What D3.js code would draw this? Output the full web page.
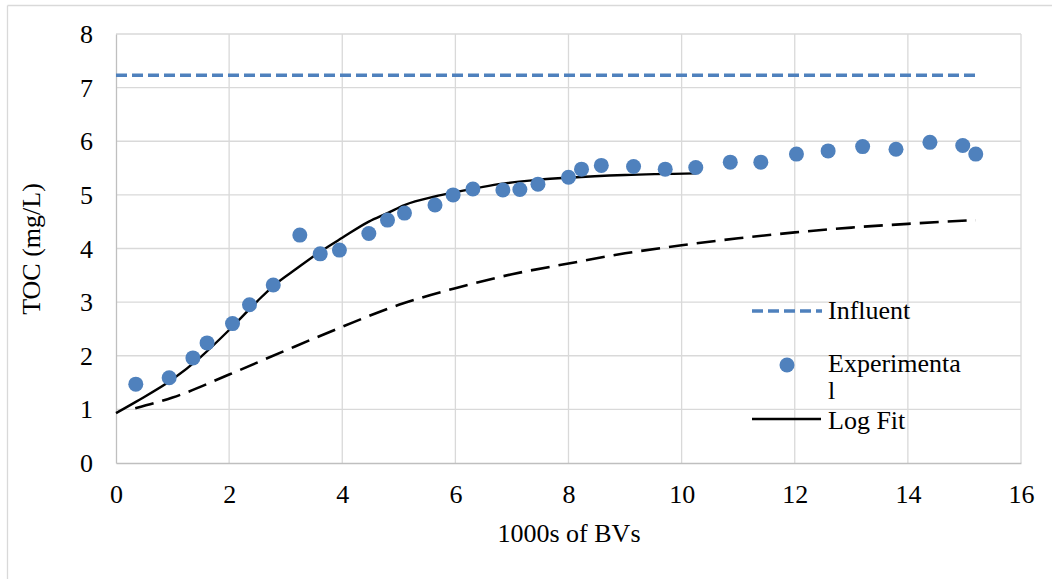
<!DOCTYPE html>
<html>
<head>
<meta charset="utf-8">
<script src="https://cdn.jsdelivr.net/npm/d3@7"></script>
<style>
  html, body { margin: 0; padding: 0; background: #fff; }
  svg { display: block; }
  text { font-family: "Liberation Serif", "Times New Roman", serif; fill: #000; }
</style>
</head>
<body>
<svg id="chart" width="1052" height="579"></svg>
<script>
// ---- data ----
const influentX = [0, 15.2];
const influentY = [7.23, 7.23];

const expX = [0.35, 0.94, 1.36, 1.61, 2.06, 2.36, 2.78, 3.25, 3.61, 3.95, 4.47, 4.80, 5.10, 5.64, 5.96, 6.31, 6.84, 7.14, 7.46, 8.00, 8.23, 8.58, 9.15, 9.71, 10.25, 10.86, 11.40, 12.03, 12.59, 13.20, 13.79, 14.39, 14.97, 15.20];
const expY = [1.47, 1.59, 1.96, 2.24, 2.60, 2.95, 3.32, 4.25, 3.90, 3.97, 4.28, 4.53, 4.66, 4.81, 5.00, 5.11, 5.09, 5.10, 5.20, 5.33, 5.48, 5.55, 5.53, 5.48, 5.51, 5.61, 5.61, 5.76, 5.82, 5.90, 5.85, 5.98, 5.92, 5.76];

const logFitX = [0, 0.35, 1, 1.5, 2, 2.5, 2.78, 3.2, 3.61, 4.0, 4.47, 4.8, 5.1, 5.64, 6.0, 6.84, 7.46, 8.0, 9.0, 10.25];
const logFitY = [0.93, 1.14, 1.56, 1.98, 2.48, 3.02, 3.30, 3.63, 3.94, 4.20, 4.50, 4.66, 4.81, 4.97, 5.05, 5.21, 5.28, 5.32, 5.37, 5.40];

const modelX = [0.34, 1, 2, 3, 4, 5, 6, 7, 8, 9, 10, 11, 12, 13, 14, 15.2];
const modelY = [1.02, 1.22, 1.65, 2.10, 2.54, 2.95, 3.26, 3.52, 3.72, 3.91, 4.06, 4.19, 4.30, 4.39, 4.46, 4.53];

const xTicks = [0, 2, 4, 6, 8, 10, 12, 14, 16];
const yTicks = [0, 1, 2, 3, 4, 5, 6, 7, 8];
const xTitle = "1000s of BVs";
const yTitle = "TOC (mg/L)";
const legendLabels = ["Influent", ["Experimenta", "l"], "Log Fit"];

// ---- layout ----
const svg = d3.select("#chart");
const plotL = 116, plotR = 1021, plotT = 34, plotB = 463;
const x = d3.scaleLinear().domain([0, 16]).range([plotL, plotR]);
const y = d3.scaleLinear().domain([0, 8]).range([plotB, plotT]);
const blue = "#4f81bd";
const fontSize = 26;

// outer chart border (left and top visible)
svg.append("line").attr("x1", 7.5).attr("x2", 7.5).attr("y1", 5.5).attr("y2", 579)
  .attr("stroke", "#d9d9d9").attr("stroke-width", 1.3);
svg.append("line").attr("x1", 7.5).attr("x2", 1052).attr("y1", 5.5).attr("y2", 5.5)
  .attr("stroke", "#d9d9d9").attr("stroke-width", 1.3);

// gridlines
const grid = svg.append("g");
grid.selectAll("line.h").data(yTicks.filter(d => d > 0)).join("line")
  .attr("x1", plotL).attr("x2", plotR)
  .attr("y1", d => y(d)).attr("y2", d => y(d))
  .attr("stroke", "#d9d9d9").attr("stroke-width", 1.3);
grid.selectAll("line.v").data(xTicks.filter(d => d > 0)).join("line")
  .attr("y1", plotT).attr("y2", plotB)
  .attr("x1", d => x(d)).attr("x2", d => x(d))
  .attr("stroke", "#d9d9d9").attr("stroke-width", 1.3);

// axes
const xAxis = d3.axisBottom(x).tickValues(xTicks).tickSize(0).tickPadding(0).tickFormat(d3.format("d"));
const yAxis = d3.axisLeft(y).tickValues(yTicks).tickSize(0).tickPadding(0).tickFormat(d3.format("d"));

const gx = svg.append("g").attr("transform", `translate(0,${plotB})`).call(xAxis);
gx.select(".domain").attr("stroke", "#bfbfbf").attr("stroke-width", 1.3);
gx.selectAll("text").attr("font-size", fontSize).attr("dy", null).attr("y", 40)
  .attr("font-family", "Liberation Serif, Times New Roman, serif").attr("fill", "#000");

const gy = svg.append("g").attr("transform", `translate(${plotL},0)`).call(yAxis);
gy.select(".domain").attr("stroke", "#bfbfbf").attr("stroke-width", 1.3);
gy.selectAll("text").attr("font-size", fontSize).attr("x", -23).attr("dy", "0.33em")
  .attr("font-family", "Liberation Serif, Times New Roman, serif").attr("fill", "#000");

// axis titles
svg.append("text").attr("x", 569).attr("y", 542).attr("text-anchor", "middle")
  .attr("font-size", fontSize).text(xTitle);
svg.append("text").attr("transform", "translate(40,249) rotate(-90)").attr("text-anchor", "middle")
  .attr("font-size", fontSize).text(yTitle);

const line = d3.line().x(d => x(d[0])).y(d => y(d[1]));
const smooth = d3.line().x(d => x(d[0])).y(d => y(d[1])).curve(d3.curveMonotoneX);

// influent
svg.append("path").datum(d3.zip(influentX, influentY)).attr("d", line)
  .attr("fill", "none").attr("stroke", blue).attr("stroke-width", 3.5).attr("stroke-dasharray", "11,5");

// model dashed
svg.append("path").datum(d3.zip(modelX, modelY)).attr("d", smooth)
  .attr("fill", "none").attr("stroke", "#000").attr("stroke-width", 2.6).attr("stroke-dasharray", "19,9");

// log fit
svg.append("path").datum(d3.zip(logFitX, logFitY)).attr("d", smooth)
  .attr("fill", "none").attr("stroke", "#000").attr("stroke-width", 2.4);

// experimental points
svg.append("g").selectAll("circle").data(d3.zip(expX, expY)).join("circle")
  .attr("cx", d => x(d[0])).attr("cy", d => y(d[1])).attr("r", 7.5).attr("fill", blue);

// legend
const lg = svg.append("g");
lg.append("line").attr("x1", 752).attr("x2", 822).attr("y1", 311).attr("y2", 311)
  .attr("stroke", blue).attr("stroke-width", 3.5).attr("stroke-dasharray", "11,5");
lg.append("text").attr("x", 828).attr("y", 319).attr("font-size", fontSize).text(legendLabels[0]);
lg.append("circle").attr("cx", 787).attr("cy", 365).attr("r", 7.5).attr("fill", blue);
const wrapped = lg.append("text").attr("x", 828).attr("y", 372).attr("font-size", fontSize);
wrapped.selectAll("tspan").data(legendLabels[1]).join("tspan")
  .attr("x", 828).attr("dy", (d, i) => i === 0 ? 0 : 27).text(d => d);
lg.append("line").attr("x1", 752).attr("x2", 821).attr("y1", 419).attr("y2", 419)
  .attr("stroke", "#000").attr("stroke-width", 2.4);
lg.append("text").attr("x", 828).attr("y", 429).attr("font-size", fontSize).text(legendLabels[2]);
</script>
</body>
</html>
